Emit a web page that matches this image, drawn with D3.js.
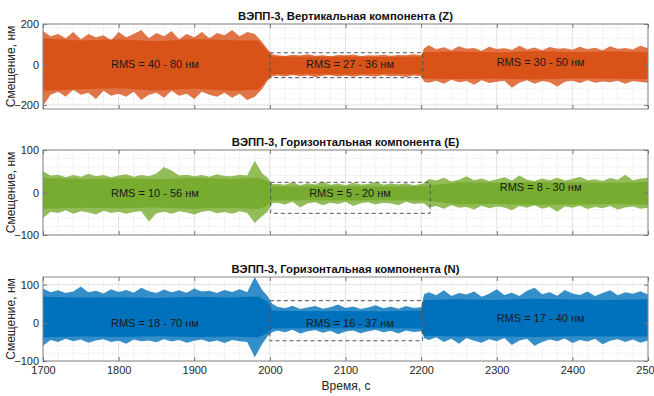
<!DOCTYPE html>
<html>
<head>
<meta charset="utf-8">
<script src="https://cdn.jsdelivr.net/npm/d3@7"></script>
<style>
  html, body { margin: 0; padding: 0; background: #fff; }
  svg { display: block; font-family: "Liberation Sans", Arial, sans-serif; }
</style>
</head>
<body>
<svg id="chart" width="654" height="396"></svg>
<script>
// ---------------- DATA ----------------
// Sampling times (s) of the read-off peak envelopes
const times = [
  1700,1710,1720,1730,1740,1750,1760,1770,1780,1790,
  1800,1810,1820,1830,1840,1850,1860,1870,1880,1890,
  1900,1910,1920,1930,1940,1950,1960,1970,1980,1990,
  1997,2003,
  2010,2020,2030,2040,2050,2060,2070,2080,2090,2100,
  2110,2120,2130,2140,2150,2160,2170,2180,2190,2200,
  2204,
  2210,2220,2230,2240,2250,2260,2270,2280,2290,2300,
  2310,2320,2330,2340,2350,2360,2370,2380,2390,2400,
  2410,2420,2430,2440,2450,2460,2470,2480,2490,2500
];

// Z (vertical) component peak envelope, nm
const zUpper = [
  165,140,150,130,160,125,150,135,145,120,
  160,135,150,170,130,155,140,165,125,150,
  135,160,130,155,145,170,140,160,150,110,
  75,50,
  45,42,48,44,50,43,46,41,47,45,
  49,42,46,44,48,43,47,45,50,46,
  80,
  95,75,85,70,90,78,82,68,88,76,
  80,72,92,74,84,70,86,78,80,73,
  88,75,83,70,90,77,82,74,92,80
];
const zLower = [
  -205,-150,-135,-160,-125,-150,-140,-170,-130,-155,
  -145,-160,-135,-175,-150,-140,-165,-130,-155,-145,
  -170,-135,-150,-160,-140,-165,-145,-175,-160,-120,
  -80,-60,
  -55,-60,-52,-58,-54,-62,-56,-53,-59,-55,
  -61,-54,-57,-60,-53,-58,-56,-62,-55,-58,
  -85,
  -90,-80,-95,-75,-88,-82,-100,-78,-92,-85,
  -80,-115,-90,-78,-95,-82,-88,-110,-85,-80,
  -92,-78,-90,-84,-88,-80,-95,-82,-86,-90
];

// E (horizontal) component peak envelope, nm
const eUpper = [
  50,40,42,36,41,37,44,38,41,36,
  40,43,37,41,38,45,60,52,40,42,
  38,41,37,43,39,38,42,40,75,45,
  35,20,
  20,18,24,17,22,19,26,18,21,17,
  23,19,20,25,18,21,19,22,17,20,
  21,
  32,28,35,26,30,38,29,33,27,31,
  36,28,40,30,27,33,29,35,28,32,
  37,29,31,27,34,30,42,29,33,35
];
const eLower = [
  -60,-45,-48,-42,-50,-44,-47,-52,-43,-48,
  -45,-50,-46,-44,-68,-49,-45,-50,-44,-47,
  -52,-45,-43,-49,-46,-50,-44,-48,-72,-55,
  -45,-25,
  -24,-28,-22,-35,-25,-23,-30,-24,-27,-22,
  -32,-25,-23,-28,-24,-26,-30,-22,-27,-25,
  -26,
  -35,-32,-38,-30,-36,-34,-40,-31,-37,-33,
  -35,-42,-32,-36,-30,-38,-34,-45,-33,-36,
  -31,-39,-34,-37,-32,-40,-35,-33,-38,-36
];

// N (horizontal) component peak envelope, nm
const nUpper = [
  90,80,85,78,82,95,80,84,77,88,
  81,86,79,92,83,78,87,80,85,79,
  90,82,84,78,86,81,88,80,120,85,
  70,50,
  42,38,45,36,40,44,37,41,48,39,
  43,36,40,46,38,42,37,44,39,41,
  75,
  80,72,85,70,78,74,82,68,76,88,
  73,79,70,84,92,75,80,71,86,77,
  73,82,70,78,85,72,80,76,83,74
];
const nLower = [
  -60,-45,-50,-42,-48,-44,-52,-46,-43,-50,
  -47,-55,-44,-48,-46,-51,-43,-49,-45,-52,
  -47,-44,-50,-46,-53,-45,-48,-50,-90,-55,
  -35,-25,
  -20,-25,-18,-28,-22,-19,-26,-21,-30,-23,
  -20,-27,-22,-18,-25,-21,-28,-20,-24,-22,
  -40,
  -45,-38,-50,-42,-55,-40,-47,-52,-43,-48,
  -40,-58,-46,-42,-60,-50,-44,-48,-41,-53,
  -45,-49,-42,-56,-47,-43,-50,-44,-52,-46
];

// Dense core of each trace (read at coarser times), nm
const coreTimes = [1700,1750,1800,1850,1900,1950,1985,1997,2003,2050,2100,2150,2200,2204,2250,2300,2350,2400,2450,2500];
const zCoreUp = [128,118,125,115,126,120,118,65,40,38,40,37,39,62,64,60,66,62,64,63];
const zCoreLo = [-130,-122,-118,-128,-120,-130,-125,-70,-48,-47,-49,-46,-48,-70,-72,-70,-74,-69,-71,-72];
const eCoreUp = [34,32,33,31,34,32,35,27,15,14,15,14,15,15,24,23,25,24,23,25];
const eCoreLo = [-38,-36,-37,-35,-38,-36,-39,-30,-19,-18,-19,-18,-19,-19,-28,-27,-29,-28,-27,-29];
const nCoreUp = [68,66,67,65,68,66,69,55,32,30,31,30,32,60,62,60,63,61,60,62];
const nCoreLo = [-38,-36,-37,-35,-37,-36,-38,-27,-15,-14,-15,-14,-15,-34,-36,-35,-37,-35,-36,-36];

const titles = [
  "ВЭПП-3, Вертикальная компонента (Z)",
  "ВЭПП-3, Горизонтальная компонента (E)",
  "ВЭПП-3, Горизонтальная компонента (N)"
];
const yDomains = [[-220, 200], [-100, 100], [-100, 120]];
const yTicks = [[-200, 0, 200], [-100, 0, 100], [-100, 0, 100]];
const yMinorSteps = [50, 20, 20];
const xTicks = [1700, 1800, 1900, 2000, 2100, 2200, 2300, 2400, 2500];

// Dashed "quiet" windows: [t0, t1, low, high]
const boxZ = [2000, 2202, -65, 58];
const boxE = [2001, 2212, -49, 24];
const boxN = [2000, 2202, -47, 58];

// RMS annotations: anchors in data units
const rmsZ = ["RMS = 40 - 80 нм", "RMS = 27 - 36 нм", "RMS = 30 - 50 нм"];
const rmsE = ["RMS = 10 - 56 нм", "RMS = 5 - 20 нм", "RMS = 8 - 30 нм"];
const rmsN = ["RMS = 18 - 70 нм", "RMS = 16 - 37 нм", "RMS = 17 - 40 нм"];
const rmsT = [1848, 2106, 2358];
const rmsV = [0, 0, 12];

// ---------------- DRAW ----------------
const colors = ["#D95319", "#77AC30", "#0072BD"];
const panels = [
  { up: zUpper, lo: zLower, cu: zCoreUp, cl: zCoreLo, box: boxZ, rms: rmsZ, top: 24, bottom: 109 },
  { up: eUpper, lo: eLower, cu: eCoreUp, cl: eCoreLo, box: boxE, rms: rmsE, top: 150, bottom: 235 },
  { up: nUpper, lo: nLower, cu: nCoreUp, cl: nCoreLo, box: boxN, rms: rmsN, top: 277, bottom: 361 }
];
const left = 43, right = 648;
const svg = d3.select("#chart");
const x = d3.scaleLinear().domain([1700, 2500]).range([left, right]);
const tickCol = "#262626";

panels.forEach((p, i) => {
  const y = d3.scaleLinear().domain(yDomains[i]).range([p.bottom, p.top]);
  const g = svg.append("g");
  const clipId = "clip" + i;
  svg.append("clipPath").attr("id", clipId)
    .append("rect").attr("x", left).attr("y", p.top)
    .attr("width", right - left).attr("height", p.bottom - p.top);

  // minor grid
  const xMinor = d3.range(1700, 2501, 20).filter(v => v % 100 !== 0);
  const yMinor = d3.range(yDomains[i][0], yDomains[i][1] + 1e-6, yMinorSteps[i])
    .filter(v => !yTicks[i].includes(v) && v > yDomains[i][0] && v < yDomains[i][1]);
  g.selectAll(".xm").data(xMinor).join("line")
    .attr("x1", d => x(d)).attr("x2", d => x(d))
    .attr("y1", p.top).attr("y2", p.bottom)
    .attr("stroke", "#e2e2e2").attr("stroke-width", 0.8).attr("stroke-dasharray", "1.5,1.5");
  g.selectAll(".ym").data(yMinor).join("line")
    .attr("x1", left).attr("x2", right)
    .attr("y1", d => y(d)).attr("y2", d => y(d))
    .attr("stroke", "#e2e2e2").attr("stroke-width", 0.8).attr("stroke-dasharray", "1.5,1.5");
  // major grid
  g.selectAll(".xg").data(xTicks).join("line")
    .attr("x1", d => x(d)).attr("x2", d => x(d))
    .attr("y1", p.top).attr("y2", p.bottom)
    .attr("stroke", "#dadada").attr("stroke-width", 0.8);
  g.selectAll(".yg").data(yTicks[i]).join("line")
    .attr("x1", left).attr("x2", right)
    .attr("y1", d => y(d)).attr("y2", d => y(d))
    .attr("stroke", "#dadada").attr("stroke-width", 0.8);

  const sig = g.append("g").attr("clip-path", `url(#${clipId})`);
  const area = d3.area().x(d => x(d.t)).y0(d => y(d.lo)).y1(d => y(d.hi));
  // peak envelope (slightly lighter, as the sparse spikes are)
  const pts = times.map((t, k) => ({ t, hi: p.up[k], lo: p.lo[k] }));
  sig.append("path").datum(pts)
    .attr("d", area)
    .attr("fill", colors[i]).attr("fill-opacity", 0.8);
  // dense core
  const core = coreTimes.map((t, k) => ({ t, hi: p.cu[k], lo: p.cl[k] }));
  sig.append("path").datum(core)
    .attr("d", area)
    .attr("fill", colors[i]);

  // dashed window
  const b = p.box;
  g.append("rect")
    .attr("x", x(b[0])).attr("y", y(b[3]))
    .attr("width", x(b[1]) - x(b[0])).attr("height", y(b[2]) - y(b[3]))
    .attr("fill", "none").attr("stroke", "#555").attr("stroke-width", 1)
    .attr("stroke-dasharray", "4,3");

  // RMS text
  p.rms.forEach((txt, k) => {
    g.append("text").attr("x", x(rmsT[k])).attr("y", y(rmsV[k]))
      .attr("text-anchor", "middle").attr("dominant-baseline", "central")
      .attr("font-size", 11).attr("fill", "#1a1a1a").text(txt);
  });

  // axes box
  g.append("rect").attr("x", left).attr("y", p.top)
    .attr("width", right - left).attr("height", p.bottom - p.top)
    .attr("fill", "none").attr("stroke", "#8a8a8a").attr("stroke-width", 1);

  // y axis (left, ticks inward) + right mirror ticks
  const yAxis = d3.axisLeft(y).tickValues(yTicks[i]).tickSizeInner(-4).tickSizeOuter(0).tickPadding(4);
  const ya = g.append("g").attr("transform", `translate(${left},0)`).call(yAxis);
  ya.select(".domain").remove();
  ya.selectAll("line").attr("stroke", "#777");
  ya.selectAll("text").attr("font-size", 11).attr("fill", tickCol)
    .attr("font-family", "Liberation Sans, Arial, sans-serif");
  const yr = g.append("g").attr("transform", `translate(${right},0)`)
    .call(d3.axisRight(y).tickValues(yTicks[i]).tickSizeInner(-4).tickSizeOuter(0).tickFormat(""));
  yr.select(".domain").remove();
  yr.selectAll("line").attr("stroke", "#777");

  // x ticks (top and bottom, inward)
  const xb = g.append("g").attr("transform", `translate(0,${p.bottom})`)
    .call(d3.axisBottom(x).tickValues(xTicks).tickSizeInner(-4).tickSizeOuter(0).tickPadding(5)
      .tickFormat(i === 2 ? d3.format("d") : ""));
  xb.select(".domain").remove();
  xb.selectAll("line").attr("stroke", "#777");
  xb.selectAll("text").attr("font-size", 11).attr("fill", tickCol)
    .attr("font-family", "Liberation Sans, Arial, sans-serif");
  const xt = g.append("g").attr("transform", `translate(0,${p.top})`)
    .call(d3.axisTop(x).tickValues(xTicks).tickSizeInner(-4).tickSizeOuter(0).tickFormat(""));
  xt.select(".domain").remove();
  xt.selectAll("line").attr("stroke", "#777");

  // title
  svg.append("text").attr("x", (left + right) / 2).attr("y", p.top - 4.5)
    .attr("text-anchor", "middle").attr("font-size", 11.3).attr("font-weight", "bold")
    .attr("fill", "#111").text(titles[i]);

  // y label
  svg.append("text")
    .attr("transform", `translate(11,${(p.top + p.bottom) / 2}) rotate(-90)`)
    .attr("text-anchor", "middle").attr("dominant-baseline", "central")
    .attr("font-size", 12).attr("fill", tickCol)
    .text("Смещение, нм");
});

svg.append("text").attr("x", 346).attr("y", 390)
  .attr("text-anchor", "middle").attr("font-size", 12).attr("fill", tickCol)
  .text("Время, с");
</script>
</body>
</html>
